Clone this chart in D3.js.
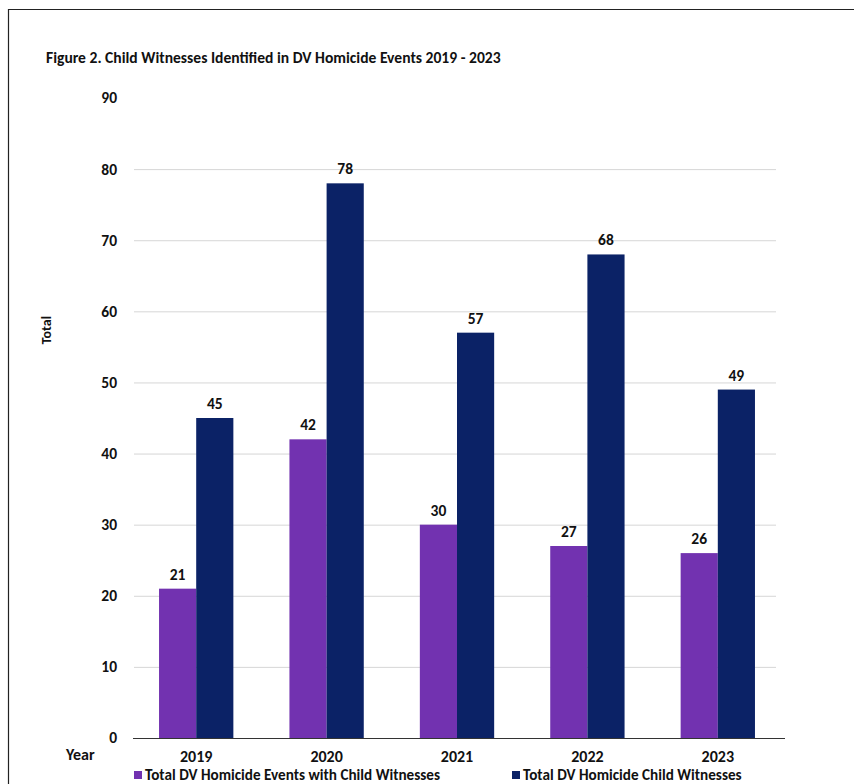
<!DOCTYPE html>
<html>
<head>
<meta charset="utf-8">
<script src="https://cdn.jsdelivr.net/npm/d3@7"></script>
<style>
  html, body { margin: 0; padding: 0; background: #fff; }
  svg { display: block; }
  text { font-family: Carlito, "Liberation Sans Narrow", "Open Sans", sans-serif; fill: #111; }
</style>
</head>
<body>
<svg id="chart" width="854" height="784"></svg>
<script>
// Child witnesses identified in DV homicide events, by year
const years = ["2019", "2020", "2021", "2022", "2023"];
const seriesNames = ["Total DV Homicide Events with Child Witnesses", "Total DV Homicide Child Witnesses"];
const eventsWithWitnesses = [21, 42, 30, 27, 26];
const childWitnesses = [45, 78, 57, 68, 49];
const yTicks = [0, 10, 20, 30, 40, 50, 60, 70, 80, 90];
const colors = ["#7232b0", "#0b2266"];
const FONT = "Carlito, 'Liberation Sans Narrow', 'Open Sans', sans-serif";

const svg = d3.select("#chart");
const W = 854, H = 784;

// Page frame (top and left rules)
svg.append("line").attr("x1", 8).attr("x2", W).attr("y1", 9.5).attr("y2", 9.5)
  .attr("stroke", "#222").attr("stroke-width", 1.2);
svg.append("line").attr("x1", 8.5).attr("x2", 8.5).attr("y1", 9).attr("y2", H)
  .attr("stroke", "#222").attr("stroke-width", 1.2);

// Title
svg.append("text").attr("x", 46).attr("y", 63)
  .attr("font-size", 15.6).attr("font-weight", "bold")
  .text("Figure 2. Child Witnesses Identified in DV Homicide Events 2019 - 2023");

const x0 = d3.scaleBand().domain(years).range([131, 783]).paddingInner(0.43).paddingOuter(0.215);
const x1 = d3.scaleBand().domain([0, 1]).range([0, x0.bandwidth()]);
const y = d3.scaleLinear().domain([0, 90]).range([738, 98]);

// Gridlines
svg.append("g").selectAll("line").data(yTicks.filter(t => t > 0 && t < 90)).join("line")
  .attr("x1", 134).attr("x2", 776)
  .attr("y1", d => y(d) + 0.5).attr("y2", d => y(d) + 0.5)
  .attr("stroke", "#d6d6d6").attr("stroke-width", 1);

// Y tick labels
const yAxis = d3.axisLeft(y).tickValues(yTicks).tickSize(0).tickPadding(0);
const gy = svg.append("g").attr("transform", "translate(117,0)").call(yAxis);
gy.select(".domain").remove();
gy.selectAll("text").attr("font-size", 15.5).attr("font-weight", "bold")
  .attr("font-family", FONT).attr("fill", "#111");

// Y axis title
svg.append("text").attr("transform", "translate(46,330) rotate(-90)")
  .attr("text-anchor", "middle").attr("dominant-baseline", "central")
  .attr("font-size", 14).attr("font-weight", "bold").text("Total");

// Bars
const rows = years.map((yr, i) => ({ yr, vals: [eventsWithWitnesses[i], childWitnesses[i]] }));
const groups = svg.append("g").selectAll("g").data(rows).join("g")
  .attr("transform", d => `translate(${x0(d.yr)},0)`);
groups.selectAll("rect").data(d => d.vals).join("rect")
  .attr("x", (d, i) => x1(i)).attr("width", x1.bandwidth())
  .attr("y", d => y(d)).attr("height", d => y(0) - y(d))
  .attr("fill", (d, i) => colors[i]);
groups.selectAll("text.lbl").data(d => d.vals).join("text").attr("class", "lbl")
  .attr("x", (d, i) => x1(i) + x1.bandwidth() / 2).attr("y", d => y(d) - 9)
  .attr("text-anchor", "middle").attr("font-size", 15.5).attr("font-weight", "bold")
  .text(d => d);

// Baseline
svg.append("line").attr("x1", 133).attr("x2", 785).attr("y1", y(0) + 0.5).attr("y2", y(0) + 0.5)
  .attr("stroke", "#333").attr("stroke-width", 1);

// X axis labels
const xAxis = d3.axisBottom(x0).tickSize(0).tickPadding(0);
const gx = svg.append("g").attr("transform", `translate(0,${y(0) + 13})`).call(xAxis);
gx.select(".domain").remove();
gx.selectAll("text").attr("font-size", 16).attr("font-weight", "bold")
  .attr("font-family", FONT).attr("fill", "#111");
svg.append("text").attr("x", 66).attr("y", 760).attr("font-size", 16).attr("font-weight", "bold").text("Year");

// Legend
const legendX = [134, 512];
const leg = svg.append("g").selectAll("g").data(seriesNames).join("g")
  .attr("transform", (d, i) => `translate(${legendX[i]},775)`);
leg.append("rect").attr("x", 0).attr("y", -4).attr("width", 8).attr("height", 8)
  .attr("fill", (d, i) => colors[i]);
leg.append("text").attr("x", 11).attr("y", 5).attr("font-size", 15.2).attr("font-weight", "bold")
  .text(d => d);
</script>
</body>
</html>
